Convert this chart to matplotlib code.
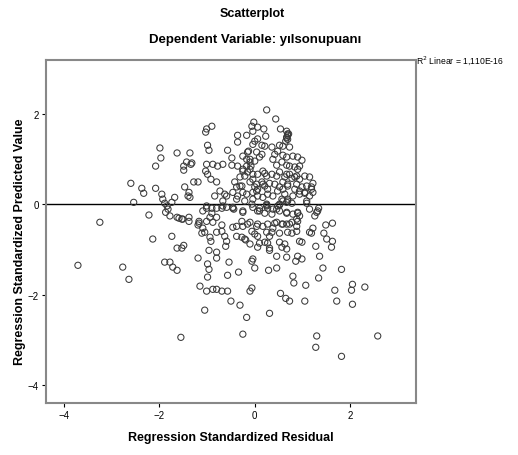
import matplotlib
matplotlib.use("Agg")
import matplotlib.pyplot as plt

plt.rcParams['font.family'] = ['Liberation Sans', 'DejaVu Sans']

title = "Scatterplot"
subtitle = "Dependent Variable: yılsonupuanı"
x_label = "Regression Standardized Residual"
y_label = "Regression Standardized Predicted Value"
r2_text = "R$^2$ Linear = 1,110E-16"
x_ticks = [-4, -2, 0, 2]
y_ticks = [-4, -2, 0, 2]

# (residual, predicted) pairs
points = [
    (-3.71, -1.35), (-3.25, -0.40), (-2.77, -1.39), (-2.64, -1.66), (-2.60, 0.46),
    (-2.54, 0.04), (-2.37, 0.35), (-2.33, 0.24), (-2.22, -0.24), (-2.14, -0.77),
    (-2.08, 0.84), (-1.99, 1.24), (-1.97, 1.02), (-2.08, 0.35), (-1.95, 0.22),
    (-1.93, 0.11), (-1.89, 0.02), (-1.84, -0.04), (-1.82, -0.11), (-1.87, -0.18),
    (-1.78, -0.26), (-1.74, 0.04), (-1.68, 0.15), (-1.74, -0.71), (-1.89, -1.28),
    (-1.78, -1.28), (-1.72, -1.39), (-1.63, -1.46), (-1.63, -0.97), (-1.53, -0.97),
    (-1.49, -0.91), (-1.55, -2.94), (-1.63, -0.29), (-1.59, -0.31), (-1.51, -0.33),
    (-1.38, -0.29), (-1.38, -0.38), (-1.63, 1.13), (-1.36, 1.13), (-1.49, 0.84),
    (-1.43, 0.93), (-1.32, 0.91), (-1.49, 0.75), (-1.28, 0.49), (-1.19, 0.49),
    (-1.47, 0.38), (-1.38, 0.26), (-1.40, 0.18), (-1.36, 0.15), (-1.19, -1.19),
    (-0.99, -1.32), (-0.96, -1.44), (-0.99, -1.61), (-1.15, -1.81), (-1.01, -1.92),
    (-0.88, -1.88), (-0.80, -1.88), (-0.69, -1.92), (-0.57, -1.92), (-0.50, -2.14),
    (-0.31, -2.23), (-1.05, -2.34), (-0.17, -2.50), (-0.25, -2.87), (-0.80, -1.06),
    (-0.80, -1.19), (-0.54, -1.28), (-0.57, -1.57), (-0.34, -1.50), (-0.04, -1.21),
    (-0.06, -1.26), (0.00, -1.41), (-0.06, -1.85), (-0.10, -1.92), (-0.94, -0.73),
    (-0.92, -0.82), (-0.96, -1.02), (-0.80, -0.62), (-0.69, -0.60), (-0.63, -0.71),
    (-0.59, -0.82), (-0.61, -0.93), (-0.38, -0.71), (-0.27, -0.73), (-0.19, -0.79),
    (-0.10, -0.88), (0.06, -0.71), (0.06, -0.95), (-0.46, -0.51), (-0.38, -0.49),
    (-0.25, -0.49), (-0.15, -0.44), (-0.27, -0.38), (-0.25, -0.18), (-0.59, -0.07),
    (-0.67, -0.04), (-1.01, -0.04), (-1.09, -0.15), (-0.90, -0.20), (-1.17, -0.42),
    (-1.09, -0.53), (-1.05, -0.62), (-1.19, -0.46), (-1.01, -0.38), (-0.88, -0.40),
    (-0.80, -0.29), (-0.69, -0.46), (-0.04, -0.07), (0.06, -0.15), (-0.06, -0.60),
    (-1.11, -0.64), (-0.94, -0.29),
    (-0.44, -0.11), (0.10, -0.15), (0.21, -0.20), (0.25, -0.04), (0.36, -0.22),
    (0.46, -0.11), (0.52, -0.02), (0.67, -0.18), (0.80, -0.22), (0.90, -0.18),
    (0.94, -0.26), (0.88, -0.33), (0.78, -0.40), (0.67, -0.44), (0.57, -0.44),
    (0.46, -0.40), (0.38, -0.53), (0.36, -0.62), (0.31, -0.71), (0.25, -0.62),
    (0.17, -0.49), (0.04, -0.49), (-0.10, -0.40), (-0.21, -0.77), (0.21, -0.84),
    (0.31, -0.97), (0.52, -0.84), (0.63, -0.88), (0.57, -0.95), (0.67, -0.99),
    (0.69, -0.62), (0.88, -0.60), (0.99, -0.84), (0.90, -1.15), (0.99, -1.21),
    (0.86, -1.26), (0.67, -1.17), (0.46, -1.15), (0.31, -1.02), (0.29, -1.46),
    (0.46, -1.41), (0.80, -1.59), (0.82, -1.74), (1.07, -1.79), (0.54, -1.97),
    (0.65, -2.08), (0.73, -2.14), (1.05, -2.14), (0.31, -2.41), (1.28, -0.93),
    (1.36, -1.15), (1.43, -1.41), (1.34, -1.63), (1.82, -1.44), (1.68, -1.90),
    (1.72, -2.14), (2.05, -1.77), (2.03, -1.90), (2.31, -1.83), (2.05, -2.21),
    (1.30, -2.91), (1.28, -3.16), (1.82, -3.36), (2.58, -2.91), (1.15, -0.62),
    (1.22, -0.53), (1.45, -0.64), (1.51, -0.77), (1.61, -0.95), (1.63, -0.82),
    (1.49, -0.46), (1.63, -0.42), (1.26, -0.26), (1.34, -0.09), (1.30, -0.18),
    (1.15, -0.11),
    (0.25, 2.08), (0.44, 1.88), (-0.02, 1.81), (-0.06, 1.72), (0.06, 1.70),
    (0.19, 1.66), (-0.04, 1.61), (0.54, 1.66), (0.67, 1.61), (0.69, 1.55),
    (0.69, 1.52), (0.71, 1.55), (0.67, 1.48), (0.69, 1.43), (0.67, 1.46),
    (0.65, 1.39), (-0.36, 1.52), (-0.17, 1.52), (0.23, 1.50), (0.06, 1.44),
    (-0.36, 1.37), (0.00, 1.39), (0.15, 1.30), (0.21, 1.28), (0.36, 1.26),
    (0.52, 1.30), (0.59, 1.28), (0.73, 1.26), (-0.13, 1.17), (0.04, 1.15),
    (0.15, 1.10), (-0.25, 1.06), (-0.17, 0.99), (-0.10, 0.93), (0.00, 0.95),
    (0.10, 1.04), (0.42, 1.10), (0.48, 1.17), (0.59, 1.08), (0.67, 1.04),
    (0.80, 1.06), (0.90, 1.04), (0.99, 0.97), (0.38, 0.99), (0.46, 0.86),
    (0.57, 0.93), (0.67, 0.86), (0.73, 0.84), (0.84, 0.82), (0.90, 0.77),
    (0.94, 0.84), (-0.36, 0.84), (-0.25, 0.77), (-0.15, 0.71), (-0.04, 0.66),
    (0.17, 0.73), (0.25, 0.62), (0.36, 0.66), (0.46, 0.62), (0.52, 0.71),
    (0.63, 0.60), (0.73, 0.66), (0.84, 0.60), (0.94, 0.55), (1.05, 0.62),
    (1.15, 0.60), (1.22, 0.46), (-0.42, 0.49), (-0.31, 0.40), (-0.10, 0.49),
    (0.04, 0.44), (0.15, 0.49), (0.21, 0.40), (0.31, 0.46), (0.42, 0.44),
    (0.52, 0.38), (0.59, 0.49), (0.69, 0.44), (0.88, 0.44), (0.99, 0.38),
    (1.09, 0.40), (1.19, 0.38), (1.22, 0.26), (1.15, 0.18), (1.09, 0.07),
    (1.05, 0.26), (0.94, 0.22), (0.80, 0.18), (0.69, 0.11), (0.59, 0.07),
    (0.52, 0.00), (0.48, -0.04), (0.38, 0.18), (0.27, 0.22), (0.17, 0.15),
    (0.06, 0.18), (-0.04, 0.11), (-0.17, 0.22), (-0.25, 0.26), (-0.36, 0.18),
    (-0.46, 0.26), (-0.38, 0.11), (-0.21, 0.07), (-0.06, 0.00), (0.25, -0.02),
    (-0.46, -0.07), (0.67, 0.04), (0.78, 0.02),
    (-1.03, 1.59), (-1.01, 1.66), (-0.90, 1.72), (-0.99, 1.30), (-0.96, 1.19),
    (-0.57, 1.19), (-0.48, 1.02), (-0.48, 0.86), (-0.04, 1.32), (-0.10, 0.77),
    (-0.17, 0.84), (-0.25, 0.73), (-0.31, 0.60), (-0.21, 0.62), (-0.04, 0.55),
    (0.00, 0.38), (-0.38, 0.38), (-0.27, 0.40), (-0.04, 0.26), (0.04, 0.29),
    (-0.80, 0.49), (-0.73, 0.29), (-0.84, 0.18), (-0.63, 0.22), (-0.59, 0.18),
    (-0.67, 0.07), (-1.01, 0.88), (-0.88, 0.88), (-0.78, 0.84), (-0.67, 0.88),
    (-1.03, 0.73), (-0.99, 0.66), (-0.92, 0.55), (-0.15, 1.15), (-0.10, 0.99),
    (-0.08, 0.84), (-1.34, 0.88),
    (-1.01, -0.09), (-0.90, -0.09), (-0.80, -0.09), (-0.69, -0.09), (-0.46, -0.09),
    (-0.25, -0.15), (-1.53, -0.33), (-1.17, -0.38),
    (0.06, 0.66), (0.21, 0.68), (0.67, 0.66), (0.78, 0.57), (0.88, 0.62),
    (1.19, 0.33), (1.05, 0.24), (0.94, 0.29), (0.84, 0.33), (0.69, 0.40),
    (0.59, 0.33), (0.48, 0.29), (0.27, 0.33), (0.17, 0.44), (0.06, 0.33),
    (0.63, 0.22), (0.57, 0.11), (0.69, 0.07), (1.09, 0.02), (0.25, 0.00),
    (0.27, -0.09), (0.10, -0.09), (0.38, -0.11), (0.52, -0.15), (0.67, -0.20),
    (0.90, -0.20), (0.90, -0.38), (0.88, -0.49), (0.73, -0.44), (0.59, -0.44),
    (0.42, -0.42), (0.27, -0.44), (0.06, -0.44), (0.52, -0.64), (0.78, -0.64),
    (1.32, -0.15), (1.19, -0.64), (0.94, -0.82), (0.00, -0.66), (0.10, -0.86),
    (0.27, -0.86),
]
residual = [p[0] for p in points]
predicted = [p[1] for p in points]

fig = plt.figure(figsize=(5.18, 4.56), dpi=100)
ax = fig.add_axes([0.0888, 0.114, 0.714, 0.752])

ax.scatter(residual, predicted, s=20, facecolors='none', edgecolors='#3a3a3a',
           linewidths=0.75, zorder=3)
ax.axhline(0, color='black', linewidth=1.0, zorder=2)

ax.set_xlim(-4.38, 3.38)
ax.set_ylim(-4.39, 3.18)
ax.set_xticks(x_ticks)
ax.set_yticks(y_ticks)
ax.tick_params(direction='out', length=3, width=0.8, labelsize=7, pad=2, colors='black')
for s in ax.spines.values():
    s.set_color('#888888')
    s.set_linewidth(1.5)

ax.set_xlabel(x_label, fontsize=9, fontweight='bold', labelpad=8)
ax.set_ylabel(y_label, fontsize=9, fontweight='bold')
ax.yaxis.set_label_coords(-0.053, 0.474)

fig.text(0.487, 0.970, title, ha='center', va='center', fontsize=9, fontweight='bold')
fig.text(0.492, 0.912, subtitle, ha='center', va='center', fontsize=9.5, fontweight='bold')
fig.text(0.804, 0.866, r2_text, ha='left', va='center', fontsize=6.2)

fig.savefig("out.png", dpi=100)
